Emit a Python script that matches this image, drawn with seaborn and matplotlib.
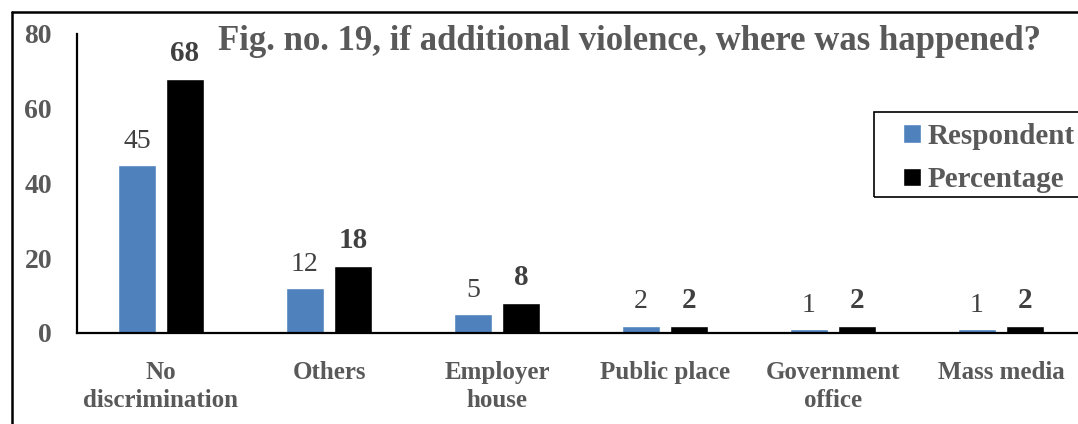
import matplotlib
matplotlib.use("Agg")
import matplotlib.pyplot as plt
from matplotlib.lines import Line2D
from matplotlib.patches import Rectangle
import seaborn as sns
import pandas as pd

categories = ["No\ndiscrimination", "Others", "Employer\nhouse", "Public place",
              "Government\noffice", "Mass media"]
respondent = [45, 12, 5, 2, 1, 1]
percentage = [68, 18, 8, 2, 2, 2]
series_names = ["Respondent", "Percentage"]
colors = ["#4F81BD", "#000000"]
title = "Fig. no. 19, if additional violence, where was happened?"
y_ticks = [0, 20, 40, 60, 80]

df = pd.DataFrame({
    "category": categories * 2,
    "series": [series_names[0]] * len(categories) + [series_names[1]] * len(categories),
    "value": respondent + percentage,
})

sns.set_style("white")
plt.rcParams["font.family"] = ["Liberation Serif", "DejaVu Serif"]

W, H = 1078, 424
fig = plt.figure(figsize=(W / 100, H / 100), dpi=100)
ax = fig.add_axes([77 / W, 1 - 333 / H, (1085 - 77) / W, (333 - 34) / H])

sns.barplot(data=df, x="category", y="value", hue="series", order=categories,
            hue_order=series_names, palette=colors, width=0.572, gap=0.21,
            saturation=1, ax=ax, legend=True)

ax.set_xlim(-0.5, len(categories) - 0.5)
ax.set_ylim(0, 80)
ax.set_yticks(y_ticks)
ax.set_xlabel("")
ax.set_ylabel("")
grey = "#595959"
ax.tick_params(axis="y", length=0, pad=18, labelsize=20, labelcolor=grey)
ax.tick_params(axis="x", length=0, pad=20, labelsize=18, labelcolor=grey)
for lbl in ax.get_yticklabels() + ax.get_xticklabels():
    lbl.set_fontweight("bold")
for lbl in ax.get_xticklabels():
    lbl.set_linespacing(1.3)
for side in ["top", "right"]:
    ax.spines[side].set_visible(False)
for side in ["left", "bottom"]:
    ax.spines[side].set_color("black")
    ax.spines[side].set_linewidth(1.6)

# value labels above each bar
off = 0.143
for i, (r, p) in enumerate(zip(respondent, percentage)):
    ax.text(i - off, r + 3.0, str(r), ha="center", va="bottom", fontsize=20,
            color="#404040")
    ax.text(i + off, p + 3.2, str(p), ha="center", va="bottom", fontsize=21,
            color="#404040", fontweight="bold")

fig.text(630 / W, 1 - 42 / H, title, ha="center", va="center", fontsize=25,
         fontweight="bold", color=grey)

# legend entries without their own frame; a wider box is drawn behind them
leg = ax.legend(loc="upper left", bbox_to_anchor=(903 / W, 1 - 123 / H),
                bbox_transform=fig.transFigure, frameon=False,
                borderaxespad=0, borderpad=0, handlelength=0.6,
                handleheight=0.6, handletextpad=0.25, labelspacing=0.55,
                prop={"size": 21, "weight": "bold"})
for t in leg.get_texts():
    t.set_color(grey)
fig.add_artist(Rectangle((874 / W, 1 - 197 / H), 300 / W, 85 / H,
                         transform=fig.transFigure, fill=False,
                         edgecolor="black", linewidth=1.2))

# outer frame of the figure: left and top edges
x0, y0 = 11.5 / W, 1 - 11.5 / H
fig.add_artist(Line2D([x0, x0], [0, y0], transform=fig.transFigure,
                      color="black", linewidth=1.8))
fig.add_artist(Line2D([x0, 1], [y0, y0], transform=fig.transFigure,
                      color="black", linewidth=1.8))

fig.savefig("out.png", dpi=100)
